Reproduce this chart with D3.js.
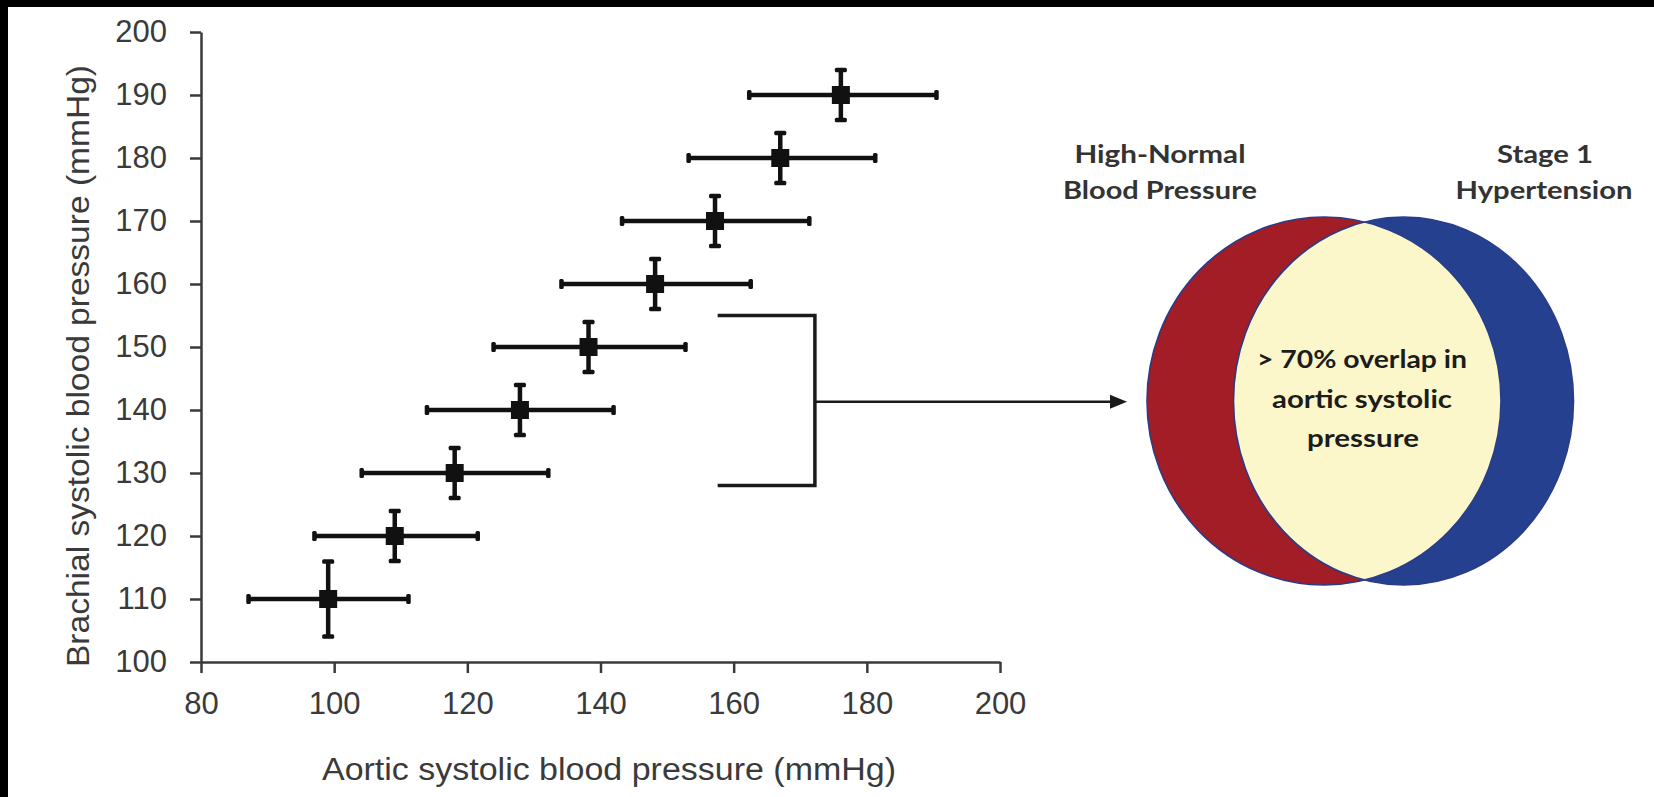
<!DOCTYPE html>
<html>
<head>
<meta charset="utf-8">
<script src="https://cdn.jsdelivr.net/npm/d3@7"></script>
<style>
  body { margin: 0; background: #fff; }
  svg { display: block; }
</style>
</head>
<body>
<svg id="chart" width="1654" height="797"></svg>
<script>
// ---------------- data ----------------
const brachial     = [110, 120, 130, 140, 150, 160, 170, 180, 190];
const brachialLow  = [104, 116, 126, 136, 146, 156, 166, 176, 186];
const brachialHigh = [116, 124, 134, 144, 154, 164, 174, 184, 194];
const aorticMean   = [99.1, 109.1, 118.1, 127.9, 138.2, 148.2, 157.2, 167.0, 176.1];
const aorticLow    = [87.1, 97.0, 104.1, 113.9, 123.9, 134.1, 143.2, 153.2, 162.3];
const aorticHigh   = [111.2, 121.6, 132.2, 142.0, 152.8, 162.6, 171.4, 181.3, 190.5];

const xTicks = [80, 100, 120, 140, 160, 180, 200];
const yTicks = [100, 110, 120, 130, 140, 150, 160, 170, 180, 190, 200];
const xTitle = "Aortic systolic blood pressure (mmHg)";
const yTitle = "Brachial systolic blood pressure (mmHg)";

// bracket annotation (in data units)
const bracketX = [157.6, 172.2];
const bracketY = [155, 128];
const arrowY = 141.3;

const vennLeftTitle  = ["High-Normal", "Blood Pressure"];
const vennRightTitle = ["Stage 1", "Hypertension"];
const vennText = ["> 70% overlap in", "aortic systolic", "pressure"];

// ---------------- setup ----------------
const W = 1654, H = 797;
const svg = d3.select("#chart");
svg.append("rect").attr("width", W).attr("height", H).attr("fill", "#fff");
svg.append("rect").attr("x", 0).attr("y", 0).attr("width", W).attr("height", 7).attr("fill", "#000");
svg.append("rect").attr("x", 0).attr("y", 0).attr("width", 8).attr("height", H).attr("fill", "#000");

const x = d3.scaleLinear().domain([80, 200]).range([201, 1000]);
const y = d3.scaleLinear().domain([100, 200]).range([662, 32]);

const axisFont = "'Liberation Sans', Arial, Helvetica, sans-serif";
const axisColor = "#3a3a3a";

const gx = svg.append("g").attr("transform", `translate(0,${y(100)})`)
  .call(d3.axisBottom(x).tickValues(xTicks).tickSize(11).tickSizeOuter(0).tickPadding(19));
const gy = svg.append("g").attr("transform", `translate(${x(80)},0)`)
  .call(d3.axisLeft(y).tickValues(yTicks).tickSize(11).tickSizeOuter(0).tickPadding(23));

[gx, gy].forEach(g => {
  g.select(".domain").attr("stroke", axisColor).attr("stroke-width", 2.5);
  g.selectAll(".tick line").attr("stroke", axisColor).attr("stroke-width", 2.5);
  g.selectAll(".tick text").attr("fill", "#3a3a3a")
    .style("font-family", axisFont).style("font-size", "31px");
});

svg.append("text")
  .attr("x", 609).attr("y", 780)
  .attr("text-anchor", "middle")
  .attr("textLength", 574).attr("lengthAdjust", "spacingAndGlyphs")
  .style("font-family", axisFont).style("font-size", "31px").attr("fill", "#3a3a3a")
  .text(xTitle);

svg.append("text")
  .attr("transform", "translate(89,366) rotate(-90)")
  .attr("text-anchor", "middle")
  .attr("textLength", 602).attr("lengthAdjust", "spacingAndGlyphs")
  .style("font-family", axisFont).style("font-size", "31px").attr("fill", "#3a3a3a")
  .text(yTitle);

// ---------------- error bars ----------------
const pts = brachial.map((b, i) => ({
  b, bl: brachialLow[i], bh: brachialHigh[i],
  a: aorticMean[i], al: aorticLow[i], ah: aorticHigh[i]
}));

const ink = "#111";
const eb = svg.append("g");
const g = eb.selectAll("g.pt").data(pts).join("g").attr("class", "pt");

g.append("line")
  .attr("x1", d => x(d.al)).attr("x2", d => x(d.ah))
  .attr("y1", d => y(d.b)).attr("y2", d => y(d.b))
  .attr("stroke", ink).attr("stroke-width", 4.5);
g.append("line")
  .attr("x1", d => x(d.a)).attr("x2", d => x(d.a))
  .attr("y1", d => y(d.bl)).attr("y2", d => y(d.bh))
  .attr("stroke", ink).attr("stroke-width", 4.5);
// horizontal-bar end caps
g.append("rect").attr("x", d => x(d.al) - 2).attr("y", d => y(d.b) - 5)
  .attr("width", 4.5).attr("height", 10).attr("rx", 1.5).attr("fill", ink);
g.append("rect").attr("x", d => x(d.ah) - 2.5).attr("y", d => y(d.b) - 5)
  .attr("width", 4.5).attr("height", 10).attr("rx", 1.5).attr("fill", ink);
// vertical-bar end caps
g.append("rect").attr("x", d => x(d.a) - 6).attr("y", d => y(d.bh) - 2)
  .attr("width", 12).attr("height", 4.5).attr("rx", 1.5).attr("fill", ink);
g.append("rect").attr("x", d => x(d.a) - 6).attr("y", d => y(d.bl) - 2.5)
  .attr("width", 12).attr("height", 4.5).attr("rx", 1.5).attr("fill", ink);
// square markers
g.append("rect")
  .attr("x", d => x(d.a) - 9).attr("y", d => y(d.b) - 9)
  .attr("width", 18).attr("height", 18).attr("fill", ink);

// ---------------- venn ----------------
const venn = { redCx: 1324, redRx: 177, blueCx: 1403.5, blueRx: 170, cy: 401, ry: 184 };
const red = "#A21D26", blue = "#24408F", cream = "#FBF7CA", edge = "#2a3c88";

const defs = svg.append("defs");
defs.append("clipPath").attr("id", "redClip")
  .append("ellipse").attr("cx", venn.redCx).attr("cy", venn.cy).attr("rx", venn.redRx).attr("ry", venn.ry);

svg.append("ellipse").attr("cx", venn.redCx).attr("cy", venn.cy).attr("rx", venn.redRx).attr("ry", venn.ry)
  .attr("fill", red);
svg.append("ellipse").attr("cx", venn.blueCx).attr("cy", venn.cy).attr("rx", venn.blueRx).attr("ry", venn.ry)
  .attr("fill", blue);
svg.append("ellipse").attr("cx", venn.blueCx).attr("cy", venn.cy).attr("rx", venn.blueRx).attr("ry", venn.ry)
  .attr("fill", cream).attr("clip-path", "url(#redClip)");
svg.append("ellipse").attr("cx", venn.redCx).attr("cy", venn.cy).attr("rx", venn.redRx).attr("ry", venn.ry)
  .attr("fill", "none").attr("stroke", edge).attr("stroke-width", 1.6);
svg.append("ellipse").attr("cx", venn.blueCx).attr("cy", venn.cy).attr("rx", venn.blueRx).attr("ry", venn.ry)
  .attr("fill", "none").attr("stroke", edge).attr("stroke-width", 1.6);

const vennFont = "Lato, 'Open Sans', sans-serif";
function label(txt, cx, base, len, size, color) {
  svg.append("text").attr("x", cx).attr("y", base).attr("text-anchor", "middle")
    .attr("textLength", len).attr("lengthAdjust", "spacingAndGlyphs")
    .style("font-family", vennFont).style("font-weight", 700).style("font-size", size + "px")
    .attr("fill", color).text(txt);
}
label(vennLeftTitle[0], 1160, 163, 171, 25, "#333");
label(vennLeftTitle[1], 1160, 199, 194, 25, "#333");
label(vennRightTitle[0], 1545, 163, 96, 25, "#333");
label(vennRightTitle[1], 1544, 199, 177, 25, "#333");
label(vennText[0], 1362, 368, 210, 25, "#1c1c1c");
label(vennText[1], 1362, 408, 180, 25, "#1c1c1c");
label(vennText[2], 1363, 447, 112, 25, "#1c1c1c");

// ---------------- bracket + arrow ----------------
const bx0 = x(bracketX[0]), bx1 = x(bracketX[1]);
const by0 = y(bracketY[0]), by1 = y(bracketY[1]);
svg.append("path")
  .attr("d", `M${bx0},${by0}H${bx1}V${by1}H${bx0}`)
  .attr("fill", "none").attr("stroke", "#1a1a1a").attr("stroke-width", 3.5);

const ay = y(arrowY);
const arrowEnd = venn.redCx - venn.redRx - 20;
svg.append("line").attr("x1", bx1).attr("x2", arrowEnd - 14).attr("y1", ay).attr("y2", ay)
  .attr("stroke", "#1a1a1a").attr("stroke-width", 2.6);
svg.append("path")
  .attr("d", `M${arrowEnd},${ay}L${arrowEnd - 17},${ay - 7}L${arrowEnd - 17},${ay + 7}Z`)
  .attr("fill", "#1a1a1a");
</script>
</body>
</html>
